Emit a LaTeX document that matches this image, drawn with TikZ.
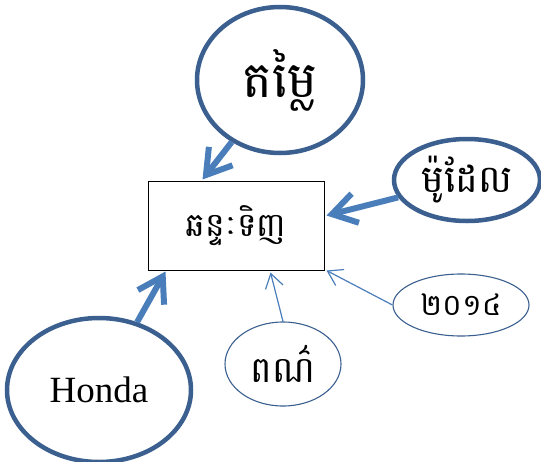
\documentclass[tikz,border=0pt]{standalone}
\usepackage{fontspec}
\setmainfont{Liberation Serif}
\newfontfamily\khmer[Script=Khmer]{Battambang}
\usetikzlibrary{arrows.meta,shapes.geometric}
\definecolor{rimblue}{HTML}{3B5F8F}
\definecolor{arrowblue}{HTML}{4A7EBB}
\tikzset{
  bigoval/.style={ellipse, draw=rimblue, line width=4.5pt, inner sep=0pt},
  smalloval/.style={ellipse, draw=rimblue, line width=1.1pt, inner sep=0pt},
  bigarrow/.style={draw=arrowblue, line width=6pt, -{Straight Barb[length=24pt,width=30pt]}},
  smallarrow/.style={draw=arrowblue, line width=1.2pt, -{Straight Barb[length=14pt,width=18pt]}},
}
\begin{document}
\begin{tikzpicture}[x=1pt,y=-1pt]
\useasboundingbox (0,0) rectangle (541,461);
\node[draw, line width=1pt, minimum width=176pt, minimum height=89pt] (tinh) at (236,225.5) {\khmer\fontsize{33}{40}\selectfont ឆន្ទៈទិញ};
\node[bigoval, minimum width=166pt, minimum height=146pt] (tamlai) at (280,80) {\khmer\fontsize{50}{60}\selectfont តម្លៃ};
\node[bigoval, minimum width=146pt, minimum height=82pt] (model) at (467,180) {\khmer\fontsize{38}{46}\selectfont ម៉ូដែល};
\node[smalloval, minimum width=136pt, minimum height=62pt] (year) at (461,305) {\khmer\fontsize{30}{36}\selectfont ២០១៤};
\node[smalloval, minimum width=116pt, minimum height=84pt] (poar) at (283,364) {\khmer\fontsize{36}{42}\selectfont ពណ៌};
\node[bigoval, minimum width=184pt, minimum height=144pt] (honda) at (99,390) {\fontsize{37}{44}\selectfont Honda};
\draw[bigarrow] (tamlai) -- ([xshift=55pt,yshift=1pt]tinh.north west);
\draw[bigarrow] (model) -- ([xshift=2pt,yshift=10pt]tinh.east);
\draw[bigarrow] (honda) -- ([xshift=18pt,yshift=-1pt]tinh.south west);
\draw[smallarrow] (poar.north) -- ([xshift=123pt,yshift=-2pt]tinh.south west);
\draw[smallarrow] (year.west) -- ([xshift=2pt]tinh.south east);
\end{tikzpicture}
\end{document}
